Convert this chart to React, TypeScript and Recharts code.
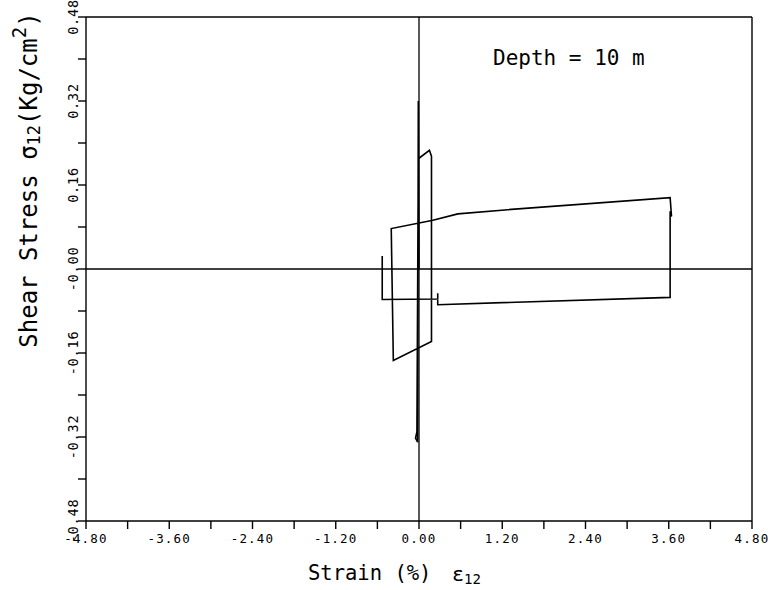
import React from 'react';
import {
  LineChart,
  Line,
  XAxis,
  YAxis,
  ReferenceLine,
} from 'recharts';

// Strain (%) / shear stress (Kg/cm2) path of the element, in loading order
const strain = [
  0.0, -0.01, -0.02, -0.05, -0.03, -0.01, 0.15, 0.18, 0.18, -0.37, -0.4,
  0.2, 0.56, 1.28, 3.62, 3.64, 3.62, 3.62, 0.27, 0.27, 0.27, -0.53, -0.53,
  -0.53,
];
const stress = [
  0.0, 0.32, -0.33, -0.322, -0.31, 0.21, 0.226, 0.215, -0.138, -0.174, 0.077,
  0.093, 0.105, 0.113, 0.136, 0.1, 0.11, -0.054, -0.068, -0.046, -0.057,
  -0.058, 0.025, -0.01,
];

const xTicks = [
  -4.8, -4.2, -3.6, -3.0, -2.4, -1.8, -1.2, -0.6, 0, 0.6, 1.2, 1.8, 2.4, 3.0,
  3.6, 4.2, 4.8,
];
const yTicks = [
  -0.48, -0.4, -0.32, -0.24, -0.16, -0.08, 0, 0.08, 0.16, 0.24, 0.32, 0.4,
  0.48,
];

const data = strain.map((x, i) => ({ x, y: stress[i] }));

const MONO = '"DejaVu Sans Mono", "Liberation Mono", monospace';
const INK = '#000';

function isStep(v: number, step: number) {
  const r = v / step;
  return Math.abs(r - Math.round(r)) < 1e-6;
}

function XTick({ x, y, payload }: any) {
  const v = payload.value as number;
  if (!isStep(v, 1.2)) return null;
  return (
    <text
      x={x}
      y={y + 12}
      textAnchor="middle"
      fontFamily={MONO}
      fontSize={12.5}
      letterSpacing={1.2}
      fill={INK}
    >
      {v.toFixed(2)}
    </text>
  );
}

function YTick({ x, y, payload }: any) {
  const v = payload.value as number;
  if (!isStep(v, 0.16)) return null;
  const label = Math.abs(v) < 1e-9 ? '-0.00' : v.toFixed(2);
  const bx = x + 2;
  return (
    <text
      x={bx}
      y={y}
      transform={`rotate(-90, ${bx}, ${y})`}
      textAnchor="middle"
      fontFamily={MONO}
      fontSize={13.5}
      letterSpacing={0.8}
      fill={INK}
    >
      {label}
    </text>
  );
}

export default function App() {
  return (
    <div style={{ position: 'absolute', left: 0, top: 0, background: '#fff' }}>
      <LineChart
        width={771}
        height={590}
        data={data}
        margin={{ top: 17, right: 19, left: 0, bottom: 0 }}
      >
        <XAxis
          type="number"
          dataKey="x"
          domain={[-4.8, 4.8]}
          ticks={xTicks}
          interval={0}
          allowDataOverflow
          height={69}
          tickSize={8}
          tickMargin={2}
          stroke={INK}
          strokeWidth={1.4}
          tick={<XTick />}
        />
        <YAxis
          type="number"
          dataKey="y"
          domain={[-0.48, 0.48]}
          ticks={yTicks}
          interval={0}
          allowDataOverflow
          width={86}
          tickSize={8}
          tickMargin={2}
          stroke={INK}
          strokeWidth={1.4}
          tick={<YTick />}
        />
        {/* frame and zero axes */}
        <ReferenceLine y={0.48} stroke={INK} strokeWidth={1.4} />
        <ReferenceLine x={4.8} stroke={INK} strokeWidth={1.4} />
        <ReferenceLine y={0} stroke={INK} strokeWidth={1.3} />
        <ReferenceLine x={0} stroke={INK} strokeWidth={1.3} />
        <Line
          type="linear"
          dataKey="y"
          stroke={INK}
          strokeWidth={1.6}
          dot={false}
          isAnimationActive={false}
        />
        <text x={493} y={65} fontFamily={MONO} fontSize={21} fill={INK}>
          Depth = 10 m
        </text>
        <text x={308} y={580} fontFamily={MONO} fontSize={20.5} fill={INK}>
          Strain (%)
        </text>
        <text x={452} y={581} fontFamily={MONO} fontSize={20} fill={INK}>
          ε
          <tspan fontSize={14} dy={3}>
            12
          </tspan>
        </text>
        <text
          x={37}
          y={180}
          transform="rotate(-90, 37, 180)"
          textAnchor="middle"
          fontFamily={MONO}
          fontSize={24}
          fill={INK}
        >
          Shear Stress σ
          <tspan fontSize={17} dy={3}>
            12
          </tspan>
          <tspan dy={-3}>(Kg/cm</tspan>
          <tspan fontSize={19} dy={-11}>
            2
          </tspan>
          <tspan dy={11}>)</tspan>
        </text>
      </LineChart>
    </div>
  );
}
